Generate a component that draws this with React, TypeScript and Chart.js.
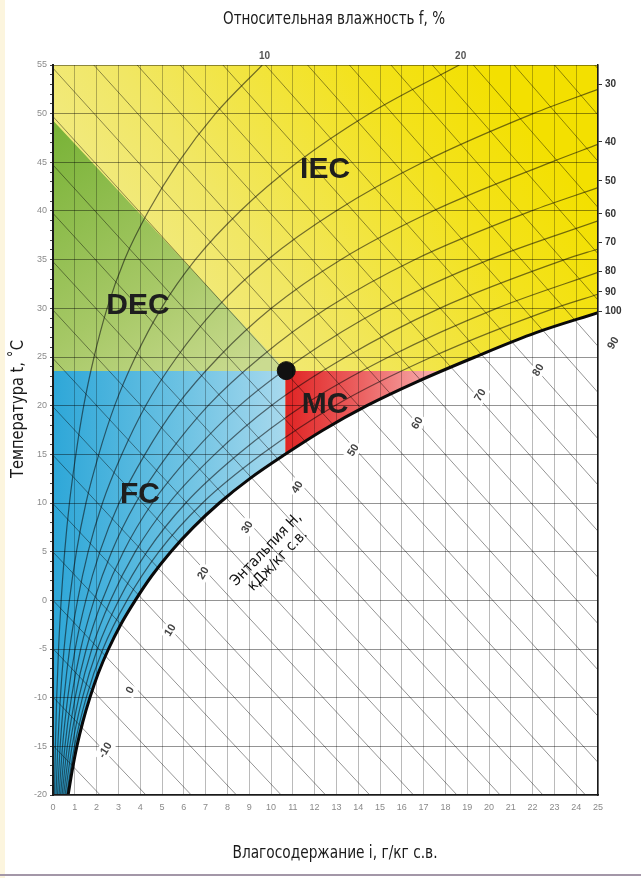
import React, { useEffect, useRef } from 'react';
import { Chart, registerables } from 'chart.js';

Chart.register(...registerables);

const CANVAS_W = 641;
const CANVAS_H = 878;

// Axis ranges: moisture content i (g/kg dry air) and temperature t (°C)
const moistureMin = 0;
const moistureMax = 25;
const temperatureMin = -20;
const temperatureMax = 55;

// Saturation curve (f = 100 %)
const saturationTemps = [-20, -17.5, -15, -12.5, -10, -7.5, -5, -2.5, 0, 2.5, 5, 7.5, 10, 12.5, 15, 17.5, 20, 22.5, 25, 27.5, 29.55];
const saturationMoisture = [0.694, 0.879, 1.095, 1.366, 1.693, 2.076, 2.546, 3.103, 3.774, 4.524, 5.406, 6.437, 7.631, 9.028, 10.652, 12.397, 14.396, 16.74, 19.362, 22.16, 25];

// Relative humidity curves: moisture content at each temperature
const curveTemps = [-20, -15, -10, -5, 0, 5, 10, 15, 20, 25, 30, 35, 40, 45, 50, 55];
const rh10 = [0.069, 0.109, 0.169, 0.254, 0.375, 0.536, 0.754, 1.05, 1.41, 1.883, 2.48, 3.28, 4.38, 5.75, 7.45, 9.6];
const rh20 = [0.139, 0.219, 0.338, 0.507, 0.751, 1.074, 1.511, 2.101, 2.827, 3.778, 4.966, 6.529, 8.594, 11.213, 14.508, 18.635];
const rh30 = [0.208, 0.328, 0.507, 0.762, 1.127, 1.612, 2.27, 3.158, 4.25, 5.685, 7.479, 9.846, 12.98, 16.972, 22.02];
const rh40 = [0.278, 0.437, 0.676, 1.016, 1.504, 2.151, 3.03, 4.218, 5.68, 7.603, 10.012, 13.197, 17.428, 22.837];
const rh50 = [0.347, 0.547, 0.845, 1.27, 1.881, 2.691, 3.792, 5.281, 7.115, 9.532, 12.566, 16.585, 21.938];
const rh60 = [0.416, 0.656, 1.014, 1.525, 2.259, 3.232, 4.556, 6.348, 8.558, 11.475, 15.141, 20.009];
const rh70 = [0.486, 0.766, 1.184, 1.78, 2.637, 3.774, 5.322, 7.418, 10.007, 13.429, 17.736, 23.469];
const rh80 = [0.555, 0.875, 1.353, 2.035, 3.015, 4.317, 6.09, 8.492, 11.463, 15.394, 20.35];
const rh90 = [0.625, 0.985, 1.523, 2.29, 3.394, 4.861, 6.859, 9.57, 12.926, 17.372, 22.99];
const rhSeries = [rh10, rh20, rh30, rh40, rh50, rh60, rh70, rh80, rh90];
// temperature where a curve leaves through the right edge (i = 25)
const rhExitTemps = [null, null, 52.5, 46.85, 42.4, 38.98, 36.1, 33.7, 31.45];

// RH scale labels
const topRhLabels = ['10', '20'];
const topRhMoisture = [9.7, 18.7];
const rightRhLabels = ['30', '40', '50', '60', '70', '80', '90', '100'];
const rightRhTemps = [53.0, 47.1, 43.1, 39.7, 36.8, 33.8, 31.7, 29.7];

// Enthalpy lines (kJ/kg), temperature at i = 0 and at i = 25
const enthalpyValues = [-20, -15, -10, -5, 0, 5, 10, 15, 20, 25, 30, 35, 40, 45, 50, 55, 60, 65, 70, 75, 80, 85, 90, 95, 100, 105, 110, 115, 120];
const enthalpyTempAtZero = [-19.88, -14.91, -9.94, -4.97, 0, 4.97, 9.94, 14.91, 19.88, 24.85, 29.82, 34.79, 39.76, 44.73, 49.7, 54.67, 59.64, 64.61, 69.58, 74.55, 79.52, 84.49, 89.46, 94.43, 99.4, 104.37, 109.34, 114.31, 119.28];
const enthalpyTempAtMax = [-78.4, -73.66, -68.9, -64.2, -59.4, -54.66, -49.9, -45.15, -40.4, -35.65, -30.9, -26.15, -21.4, -16.65, -11.9, -7.15, -2.4, 2.35, 7.1, 11.85, 16.6, 21.35, 26.1, 30.85, 35.61, 40.36, 45.11, 49.86, 54.61];
const enthalpyLabelTexts = ['-10', '0', '10', '20', '30', '40', '50', '60', '70', '80', '90'];
const enthalpyLabelMoisture = [2.39, 3.53, 5.37, 6.88, 8.9, 11.19, 13.76, 16.7, 19.59, 22.25, 25.69];
const enthalpyLabelTemps = [-15.38, -9.21, -3.05, 2.81, 7.53, 11.64, 15.44, 18.22, 21.1, 23.67, 26.44];

// Zones and the design point
const zoneNames = ['IEC', 'DEC', 'MC', 'FC'];
const zoneNameMoisture = [12.48, 3.9, 12.48, 3.99];
const zoneNameTemps = [44.2, 30.3, 20.07, 10.82];
const stateMoisture = 10.7;
const stateTemp = 23.6;
const zoneTopTemp = 23.55;
const zoneSplitMoisture = 10.652;
const zoneSplitTemp = 15;
const mcRightMoisture = 17.8;
const decTopTemp = 49.3;

const FONT = '"Liberation Sans", Arial, sans-serif';
const NARROW = '"Liberation Sans Narrow", "DejaVu Sans Condensed", "Liberation Sans", sans-serif';
const GRID_V = 'rgba(0,0,0,0.27)';
const GRID_H = 'rgba(0,0,0,0.42)';

type P = { x: number; y: number };

const satPts: P[] = saturationMoisture.map((v, k) => ({ x: v, y: saturationTemps[k] }));

const yellowPoly: P[] = [
  { x: moistureMin, y: temperatureMax },
  { x: moistureMax, y: temperatureMax },
  ...satPts.slice().reverse(),
  { x: moistureMin, y: temperatureMin },
];
const bluePoly: P[] = [
  { x: moistureMin, y: temperatureMin },
  ...satPts.filter((p) => p.y <= zoneSplitTemp),
  { x: zoneSplitMoisture, y: zoneTopTemp },
  { x: moistureMin, y: zoneTopTemp },
];
const redPoly: P[] = [
  { x: zoneSplitMoisture, y: zoneSplitTemp },
  { x: zoneSplitMoisture, y: zoneTopTemp },
  { x: mcRightMoisture, y: zoneTopTemp },
  ...satPts.filter((p) => p.y > zoneSplitTemp && p.y < zoneTopTemp).reverse(),
  { x: zoneSplitMoisture, y: zoneSplitTemp },
];
const greenPoly: P[] = [
  { x: moistureMin, y: zoneTopTemp },
  { x: moistureMin, y: decTopTemp },
  { x: stateMoisture, y: stateTemp },
  { x: stateMoisture, y: zoneTopTemp },
];

function gradient(chart: any, x0: number, y0: number, x1: number, y1: number, stops: [number, string][]) {
  const { ctx, chartArea, scales } = chart;
  if (!chartArea || !scales.x || !scales.y) return stops[0][1];
  const g = ctx.createLinearGradient(
    scales.x.getPixelForValue(x0), scales.y.getPixelForValue(y0),
    scales.x.getPixelForValue(x1), scales.y.getPixelForValue(y1)
  );
  stops.forEach(([o, c]) => g.addColorStop(o, c));
  return g;
}

function polyDataset(data: P[], bg: (c: any) => any, order: number) {
  return {
    data,
    showLine: true,
    fill: 'shape',
    backgroundColor: bg,
    borderWidth: 0,
    borderColor: 'rgba(0,0,0,0)',
    pointRadius: 0,
    tension: 0,
    order,
  };
}

function fittedText(c: CanvasRenderingContext2D, text: string, x: number, y: number, width: number, rot: number) {
  c.save();
  c.translate(x, y);
  if (rot) c.rotate(rot);
  const w = c.measureText(text).width;
  c.scale(width / w, 1);
  c.fillText(text, 0, 0);
  c.restore();
}

const decorPlugin = {
  id: 'decor',
  beforeDraw(chart: any) {
    const c = chart.ctx;
    c.save();
    c.fillStyle = '#fcf5de';
    c.fillRect(0, 0, 5, CANVAS_H);
    c.fillStyle = '#a397a8';
    c.fillRect(0, 874, CANVAS_W, 2);
    c.restore();
  },
  afterDraw(chart: any) {
    const c = chart.ctx;
    const xs = chart.scales.x;
    const ys = chart.scales.y;
    const px = (v: number) => xs.getPixelForValue(v);
    const py = (v: number) => ys.getPixelForValue(v);
    c.save();

    // enthalpy labels
    c.font = 'bold 11px ' + FONT;
    c.textAlign = 'center';
    c.textBaseline = 'middle';
    enthalpyLabelTexts.forEach((t, k) => {
      c.save();
      c.translate(px(enthalpyLabelMoisture[k]), py(enthalpyLabelTemps[k]));
      c.rotate((-58 * Math.PI) / 180);
      const w = c.measureText(t).width + 5;
      c.fillStyle = '#ffffff';
      c.fillRect(-w / 2, -7, w, 14);
      c.fillStyle = '#444444';
      c.fillText(t, 0, 0.5);
      c.restore();
    });

    // zone names
    c.font = 'bold 30px ' + FONT;
    c.fillStyle = '#1e1e1e';
    zoneNames.forEach((t, k) => {
      c.fillText(t, px(zoneNameMoisture[k]), py(zoneNameTemps[k]));
    });

    // enthalpy caption
    c.save();
    c.translate(px(10.05), py(4.66));
    c.rotate((-46 * Math.PI) / 180);
    c.font = '15px ' + NARROW;
    c.fillStyle = '#111';
    c.fillText('Энтальпия H,', 0, -8);
    c.fillText('кДж/кг с.в.', 0, 8);
    c.restore();

    // axis titles
    c.font = '18px ' + NARROW;
    c.fillStyle = '#1a1a1a';
    fittedText(c, 'Относительная влажность f, %', 334, 19, 222, 0);
    fittedText(c, 'Влагосодержание i, г/кг с.в.', 335, 853, 205, 0);
    fittedText(c, 'Температура t, ˚С', 18, 409, 138, -Math.PI / 2);

    c.restore();
  },
};

export default function App() {
  const ref = useRef<HTMLCanvasElement>(null);

  useEffect(() => {
    document.body.style.margin = '0';
    const canvas = ref.current;
    if (!canvas) return;

    const datasets: any[] = [];

    datasets.push(polyDataset(yellowPoly, (cx: any) => gradient(cx.chart, 0, 22, 20, 55, [[0, '#f2eea8'], [0.45, '#f1e764'], [0.8, '#f3e21c'], [1, '#f3e000']]), 100));
    datasets.push(polyDataset(greenPoly, (cx: any) => gradient(cx.chart, 0, 49, 8, 22, [[0, '#78b236'], [0.6, '#a6c866'], [1, '#cadb90']]), 90));
    datasets.push(polyDataset(bluePoly, (cx: any) => gradient(cx.chart, 0, 10, 10.7, 10, [[0, '#2ea7d8'], [0.55, '#6cc2e3'], [1, '#a8d9ed']]), 90));
    datasets.push(polyDataset(redPoly, (cx: any) => gradient(cx.chart, 10.7, 20, 17.8, 20, [[0, '#e02424'], [0.5, '#ec6464'], [1, '#f8b4b4']]), 90));

    enthalpyValues.forEach((h, k) => {
      datasets.push({
        label: 'H ' + h,
        data: [
          { x: moistureMin, y: enthalpyTempAtZero[k] },
          { x: moistureMax, y: enthalpyTempAtMax[k] },
        ],
        showLine: true,
        borderColor: 'rgba(0,0,0,0.42)',
        borderWidth: 1,
        pointRadius: 0,
        order: 50,
      });
    });

    rhSeries.forEach((arr, k) => {
      const pts: P[] = arr.map((v, j) => ({ x: v, y: curveTemps[j] }));
      const exit = rhExitTemps[k];
      if (exit !== null) pts.push({ x: moistureMax, y: exit });
      datasets.push({
        label: 'RH ' + (k + 1) * 10,
        data: pts,
        showLine: true,
        borderColor: 'rgba(10,10,10,0.55)',
        borderWidth: 1.2,
        pointRadius: 0,
        cubicInterpolationMode: 'monotone',
        order: 30,
      });
    });

    datasets.push({
      label: 'saturation',
      data: satPts,
      showLine: true,
      borderColor: '#0a0a0a',
      borderWidth: 3,
      pointRadius: 0,
      cubicInterpolationMode: 'monotone',
      order: 20,
    });

    datasets.push({
      label: 'state',
      data: [{ x: stateMoisture, y: stateTemp }],
      pointRadius: 9,
      pointBackgroundColor: '#111',
      pointBorderColor: '#111',
      order: 10,
    });

    const chart = new Chart(canvas, {
      type: 'scatter',
      data: { datasets },
      plugins: [decorPlugin],
      options: {
        responsive: false,
        animation: false,
        devicePixelRatio: 1,
        layout: { padding: 0 },
        plugins: { legend: { display: false }, tooltip: { enabled: false } },
        scales: {
          x: {
            type: 'linear',
            position: 'bottom',
            min: moistureMin,
            max: moistureMax,
            afterFit: (s: any) => { s.height = 83; },
            ticks: { stepSize: 1, autoSkip: false, color: '#8a8a8a', font: { size: 9, family: FONT }, padding: 7, maxRotation: 0 },
            grid: { color: GRID_V, lineWidth: 1, drawTicks: false, z: 1 },
            border: { display: true, color: '#1a1a1a', width: 1.5, z: 2 },
          },
          x2: {
            type: 'linear',
            position: 'top',
            min: moistureMin,
            max: moistureMax,
            afterFit: (s: any) => { s.height = 65; },
            afterBuildTicks: (s: any) => { s.ticks = topRhMoisture.map((v) => ({ value: v })); },
            ticks: { autoSkip: false, color: '#555', font: { size: 10, weight: 'bold', family: FONT }, padding: 3, maxRotation: 0, callback: (_v: any, i: number) => topRhLabels[i] },
            grid: { display: true, drawOnChartArea: false, drawTicks: false, tickLength: 0, color: 'rgba(0,0,0,0)' },
            border: { display: false },
          },
          y: {
            type: 'linear',
            position: 'left',
            min: temperatureMin,
            max: temperatureMax,
            afterFit: (s: any) => { s.width = 53; },
            ticks: {
              stepSize: 1,
              autoSkip: false,
              color: '#8a8a8a',
              font: { size: 9, family: FONT },
              padding: 3,
              callback: (v: any) => (Number(v) % 5 === 0 ? String(v) : ''),
            },
            grid: {
              color: (c: any) => (c.tick && Number(c.tick.value) % 5 === 0 ? GRID_H : 'rgba(0,0,0,0)'),
              tickColor: '#444',
              tickLength: 3,
              lineWidth: 1,
              z: 1,
            },
            border: { display: true, color: '#1a1a1a', width: 2, z: 2 },
          },
          y2: {
            type: 'linear',
            position: 'right',
            min: temperatureMin,
            max: temperatureMax,
            afterFit: (s: any) => { s.width = 43; },
            afterBuildTicks: (s: any) => { s.ticks = rightRhTemps.map((v) => ({ value: v })); },
            ticks: { autoSkip: false, color: '#333', font: { size: 10, weight: 'bold', family: FONT }, padding: 3, callback: (_v: any, i: number) => rightRhLabels[i] },
            grid: { drawOnChartArea: false, tickColor: '#333', tickLength: 4 },
            border: { display: true, color: '#1a1a1a', width: 1.5, z: 2 },
          },
        },
      } as any,
    } as any);

    return () => chart.destroy();
  }, []);

  return (
    <canvas
      ref={ref}
      width={CANVAS_W}
      height={CANVAS_H}
      style={{ display: 'block', width: CANVAS_W, height: CANVAS_H }}
    />
  );
}
